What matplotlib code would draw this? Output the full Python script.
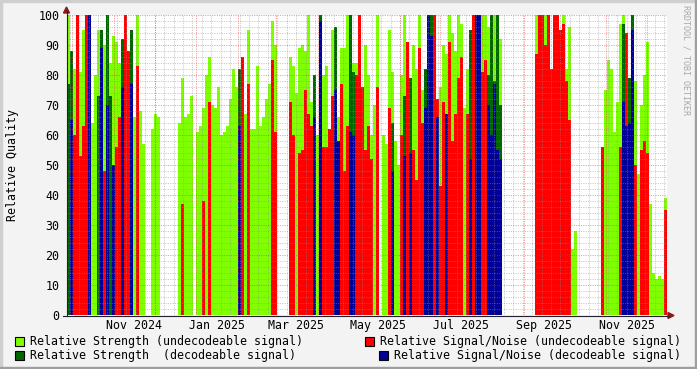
import numpy as np
import pandas as pd
import matplotlib
matplotlib.use("Agg")
import matplotlib.pyplot as plt
import matplotlib.dates as mdates
from matplotlib.lines import Line2D
from matplotlib.patches import Polygon, Rectangle

N = None

# samples of ~2.2 days each, starting 2024-09-27
start = pd.Timestamp("2024-09-27")
end = pd.Timestamp("2025-12-16")

strength_undec = [
    100, N, 82, 100, 81, 95, N, N, 64, 80,
    95, N, 90, N, 84, 93, 91, 84, N, N,
    N, N, 66, 100, 68, 57, N, N, 62, 67,
    66, N, N, N, N, N, N, 64, 79, 66,
    67, 73, N, 61, 63, 69, 80, 86, 70, 69,
    76, 60, 61, 63, 72, 82, 76, N, 65, 67,
    95, 62, 62, 83, 63, 66, 72, 77, 98, 90,
    N, N, N, N, 86, 83, 74, 89, 90, 88,
    100, 71, N, 60, N, 80, 83, 60, 95, N,
    66, 89, 89, 100, N, 84, 84, N, N, 90,
    80, 60, 70, 100, N, 60, 57, 95, 81, 58,
    50, 80, 100, 77, N, 90, 82, 100, 75, N,
    N, N, N, N, 76, 90, 87, 100, 94, 88,
    100, 97, 69, 82, N, N, N, N, 100, 100,
    96, N, 100, N, 92, N, N, N, N, N,
    N, N, N, N, N, N, 100, N, N, 100,
    N, N, N, N, N, 100, 82, 96, 22, 28,
    N, N, N, N, N, N, N, N, 52, 75,
    85, 82, 61, 71, 97, 100, N, N, N, 78,
    47, 70, 80, 91, 37, 14, 12, 13, 12, 39,
]

snr_undec = [
    N, N, 60, 100, 53, 63, 100, N, N, N,
    N, N, 48, N, N, N, 56, 66, N, 100,
    88, N, N, 83, N, N, N, N, N, N,
    N, N, N, N, N, N, N, N, 37, N,
    N, N, N, N, N, 38, N, 71, N, N,
    N, N, N, N, N, N, N, N, 86, N,
    77, N, N, N, N, N, N, N, 85, 61,
    N, N, N, N, 71, 60, N, 54, 55, 75,
    67, 63, N, N, N, 56, 56, 62, 73, N,
    N, 77, 48, 63, N, N, 80, 100, 76, 55,
    63, 52, N, 76, N, N, N, 69, N, N,
    N, 60, N, 91, N, 55, 45, 89, 64, N,
    N, N, 100, 72, 43, 71, N, 91, 58, 67,
    79, 86, N, 67, N, 100, N, N, 81, 85,
    N, N, N, N, N, N, N, N, N, N,
    N, N, N, N, N, N, 87, 100, 100, 90,
    100, 82, 100, 100, 95, 97, 78, 65, N, N,
    N, N, N, N, N, N, N, N, 56, N,
    N, N, N, N, 56, N, 94, N, N, 50,
    N, 55, 58, 54, N, N, N, N, N, 35,
]

strength_dec = (
    [77, 88, N, N, N, N, N, N, N, N,
     73, 95, N, 100, 73, N, N, N, 92, N,
     N, 95, N, N, N, N, N, N, N, N]
    + [N] * 20
    + [N, N, N, N, N, N, N, 82, N, N]
    + [N] * 20
    + [N, N, 80, N, 100, N, N, N, N, 96,
       N, N, N, N, 100, 81, N, N, N, N,
       N, N, N, N, N, N, N, N, 64, N,
       N, N, 73, N, 79, N, N, N, N, 82,
       100, 100, N, N, N, N, N, N, N, N,
       N, N, N, N, 95, N, N, N, N, N,
       80, 100, 78, 100, 70, N, N, N, N, N]
    + [N] * 30
    + [N, N, N, N, N, 97, N, 79, 100, N]
    + [N] * 10
)

snr_dec = (
    [N, 65, N, N, N, N, N, 100, N, N,
     N, 89, N, 70, N, 50, N, N, 76, N,
     N, 77, N, N, N, N, N, N, N, N]
    + [N] * 20
    + [N, N, N, N, N, N, N, 63, N, N]
    + [N] * 20
    + [N, N, 66, N, 98, N, N, N, N, 75,
       58, N, N, N, 61, 60, N, N, N, N,
       N, N, N, N, N, N, N, N, 48, N,
       N, N, 53, N, 54, N, N, N, N, 69,
       100, 93, N, 66, N, N, 67, N, N, N,
       N, N, N, N, 52, N, 100, 100, N, N,
       70, 60, 77, 55, 52, N, N, N, N, N]
    + [N] * 30
    + [N, N, N, N, N, 71, 63, 64, 95, N]
    + [N] * 10
)

GREEN = "#80FF00"
RED = "#FF0000"
DKGREEN = "#006600"
BLUE = "#000099"

W, H = 697, 369
plt.rcParams["font.family"] = "DejaVu Sans Mono"
fs = 8.4

fig = plt.figure(figsize=(W / 100, H / 100), dpi=100, facecolor="#F3F3F3")


def fx(px):
    return px / W


def fy(py):
    return 1 - py / H


ax = fig.add_axes([fx(67), fy(315), fx(600), 300 / H])
ax.set_facecolor("white")

x0 = mdates.date2num(start)
x1 = mdates.date2num(end)
bin_days = (x1 - x0) / len(strength_undec)
xs = x0 + np.arange(len(strength_undec)) * bin_days

for vals, col in [(strength_undec, GREEN), (snr_undec, RED),
                  (strength_dec, DKGREEN), (snr_dec, BLUE)]:
    v = np.array([np.nan if a is None else a for a in vals], float)
    m = ~np.isnan(v)
    ax.bar(xs[m], v[m], width=bin_days, align="edge", color=col,
           linewidth=0, antialiased=False, zorder=1)

ax.set_xlim(x0, x1)
ax.set_ylim(0, 100)

minor_col = (0.56, 0.56, 0.56, 0.45)
major_col = (0.87, 0.19, 0.19, 0.45)
dots = (0, (1.2, 1.2))

for d in pd.date_range(start, end, freq="W-SUN"):
    ax.axvline(mdates.date2num(d), color=minor_col, lw=0.7, ls=dots, zorder=3)
for d in pd.date_range(start, end, freq="MS"):
    ax.axvline(mdates.date2num(d), color=major_col, lw=0.7, ls=dots, zorder=3)
for yv in range(2, 100, 2):
    ax.axhline(yv, color=major_col if yv % 10 == 0 else minor_col,
               lw=0.7, ls=dots, zorder=3)
ax.axhline(100, color=major_col, lw=0.7, ls=dots, zorder=3)

ax.set_yticks(range(0, 101, 10))
ax.tick_params(axis="y", length=0, pad=5.5, labelsize=fs, colors="#000000")
ax.xaxis.set_major_locator(mdates.MonthLocator(bymonth=[1, 3, 5, 7, 9, 11], bymonthday=16))
ax.xaxis.set_major_formatter(mdates.DateFormatter("%b %Y"))
ax.tick_params(axis="x", length=0, pad=3, labelsize=fs)
for s in ax.spines.values():
    s.set_visible(False)

ax.set_ylabel("Relative Quality", fontsize=fs, labelpad=14)

# axis lines and arrows
axis_col = "#202030"
fig.add_artist(Line2D([fx(66.5), fx(66.5)], [fy(315.5), fy(11)], color=axis_col, lw=0.8))
fig.add_artist(Line2D([fx(63), fx(669)], [fy(315.5), fy(315.5)], color=axis_col, lw=0.8))
arrow_col = "#8B1A1A"
fig.add_artist(Polygon([[fx(63.5), fy(13)], [fx(69.5), fy(13)], [fx(66.5), fy(7)]],
                       closed=True, color=arrow_col, transform=fig.transFigure))
fig.add_artist(Polygon([[fx(668), fy(312.5)], [fx(668), fy(318.5)], [fx(674), fy(315.5)]],
                       closed=True, color=arrow_col, transform=fig.transFigure))

# legend
legend_items = [
    (15, 341.5, GREEN, "Relative Strength (undecodeable signal)"),
    (365, 341.5, RED, "Relative Signal/Noise (undecodeable signal)"),
    (15, 355.5, DKGREEN, "Relative Strength  (decodeable signal)"),
    (379, 355.5, BLUE, "Relative Signal/Noise (decodeable signal)"),
]
for bx, by, col, label in legend_items:
    fig.add_artist(Rectangle((fx(bx), fy(by + 4.5)), fx(9), 9 / H, facecolor=col,
                             edgecolor="black", lw=0.8, transform=fig.transFigure))
    fig.text(fx(bx + 15), fy(by), label, fontsize=fs, va="center", ha="left")

fig.text(fx(686), fy(60), "RRDTOOL / TOBI OETIKER", rotation=270, fontsize=6,
         color="#A8A8A8", va="center", ha="center")

# frame shading
fig.add_artist(Rectangle((0, fy(2)), 1, 2 / H, color="#CFCFCF", transform=fig.transFigure))
fig.add_artist(Rectangle((0, 0), fx(2), 1, color="#CFCFCF", transform=fig.transFigure))
fig.add_artist(Rectangle((0, 0), 1, 2 / H, color="#9E9E9E", transform=fig.transFigure))
fig.add_artist(Rectangle((fx(695), 0), fx(2), 1, color="#9E9E9E", transform=fig.transFigure))

fig.savefig("out.png", dpi=100, facecolor=fig.get_facecolor())
